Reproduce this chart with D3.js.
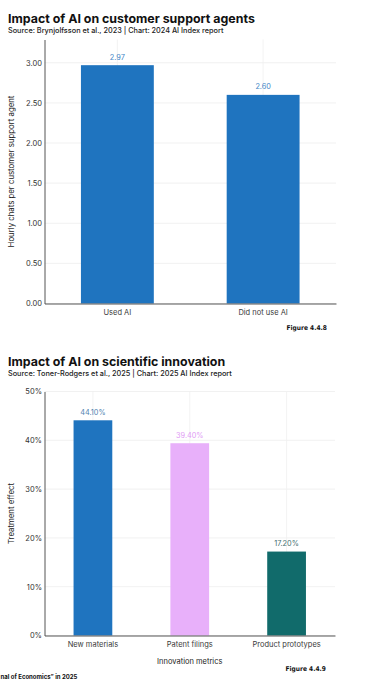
<!DOCTYPE html>
<html><head><meta charset="utf-8">
<script src="https://cdn.jsdelivr.net/npm/d3@7"></script>
<style>body{margin:0;background:#fff}svg{display:block}</style>
</head><body>
<svg id="c" width="382" height="681"></svg>
<script>
// Chart 1 data
const cats1 = ["Used AI", "Did not use AI"];
const vals1 = [2.97, 2.60];
const ticks1 = [0, 0.5, 1, 1.5, 2, 2.5, 3];
// Chart 2 data
const cats2 = ["New materials", "Patent filings", "Product prototypes"];
const vals2 = [44.10, 39.40, 17.20];
const ticks2 = [0, 10, 20, 30, 40, 50];
const colors2 = ["#1f74bf", "#e8b0fa", "#116b6b"];
const labelColors2 = ["#4f83b0", "#e19cf5", "#3f6f70"];

const svg = d3.select("#c");
const F = "Inter, 'Open Sans', sans-serif";

function header(y, title, sub) {
  svg.append("text").attr("x", 8).attr("y", y).attr("font-family", F).attr("font-weight", 700)
    .attr("font-size", 12.4).attr("fill", "#111").text(title);
  svg.append("text").attr("x", 8).attr("y", y + 9.5).attr("font-family", F).attr("font-weight", 500)
    .attr("font-size", 7.3).attr("fill", "#222").text(sub);
}

function chart(o) {
  const g = svg.append("g");
  const x = d3.scaleBand().domain(o.cats).range([o.left, o.right]).paddingInner(o.pi).paddingOuter(o.po);
  const y = d3.scaleLinear().domain(o.domain).range([o.bottom, o.top]);
  g.selectAll(".hg").data(o.ticks).join("line")
    .attr("x1", o.left).attr("x2", o.right).attr("y1", d => y(d)).attr("y2", d => y(d))
    .attr("stroke", "#eeeeee").attr("stroke-width", 0.8);
  g.selectAll(".vg").data(o.cats).join("line")
    .attr("x1", d => x(d) + x.bandwidth() / 2).attr("x2", d => x(d) + x.bandwidth() / 2)
    .attr("y1", o.top).attr("y2", o.bottom).attr("stroke", "#f0f0f0").attr("stroke-width", 0.8);
  g.selectAll(".bar").data(o.vals).join("rect")
    .attr("x", (d, i) => x(o.cats[i])).attr("width", x.bandwidth())
    .attr("y", d => y(d)).attr("height", d => o.bottom - y(d))
    .attr("fill", (d, i) => o.colors[i]);
  g.selectAll(".vl").data(o.vals).join("text")
    .attr("x", (d, i) => x(o.cats[i]) + x.bandwidth() / 2).attr("y", d => y(d) - 5.5)
    .attr("text-anchor", "middle").attr("font-family", F).attr("font-size", 7.3)
    .attr("fill", (d, i) => o.labelColors[i]).text(o.fmtv);
  const ya = d3.axisLeft(y).tickValues(o.ticks).tickFormat(o.fmt).tickSize(0).tickPadding(2.5);
  const yg = g.append("g").attr("transform", `translate(${o.left},0)`).call(ya);
  yg.select(".domain").attr("stroke", "#555").attr("stroke-width", 1);
  yg.selectAll("text").attr("font-family", F).attr("font-size", 7.5).attr("fill", "#333");
  const xa = d3.axisBottom(x).tickSize(0).tickPadding(6.5);
  const xg = g.append("g").attr("transform", `translate(0,${o.bottom})`).call(xa);
  xg.select(".domain").attr("stroke", "#555").attr("stroke-width", 1);
  xg.selectAll("text").attr("font-family", F).attr("font-size", 7.5).attr("fill", "#3a3a3a");
  g.append("text").attr("transform", `translate(${o.ytx},${(o.top + o.bottom) / 2}) rotate(-90)`)
    .attr("text-anchor", "middle").attr("font-family", F).attr("font-size", 7.8).attr("fill", "#222").text(o.ytitle);
  return {x, y};
}

header(23, "Impact of AI on customer support agents", "Source: Brynjolfsson et al., 2023 | Chart: 2024 AI Index report");
chart({cats: cats1, vals: vals1, ticks: ticks1, domain: [0, 3.29], left: 44.5, right: 336, top: 39.5, bottom: 303.5,
  pi: 0.5, po: 0.25, colors: ["#1f74bf", "#1f74bf"], labelColors: ["#3f86c6", "#3f86c6"],
  fmt: d3.format(".2f"), fmtv: d3.format(".2f"), ytx: 14, ytitle: "Hourly chats per customer support agent"});
svg.append("text").attr("x", 327).attr("y", 330).attr("text-anchor", "end").attr("font-family", "'DejaVu Sans Condensed', 'DejaVu Sans', sans-serif")
  .attr("font-weight", 700).attr("font-size", 6.6).attr("fill", "#111").text("Figure 4.4.8");

header(366, "Impact of AI on scientific innovation", "Source: Toner-Rodgers et al., 2025 | Chart: 2025 AI Index report");
chart({cats: cats2, vals: vals2, ticks: ticks2, domain: [0, 50], left: 44.5, right: 335, top: 391.5, bottom: 635.5,
  pi: 0.6, po: 0.3, colors: colors2, labelColors: labelColors2,
  fmt: d => d + "%", fmtv: d => d3.format(".2f")(d) + "%", ytx: 14, ytitle: "Treatment effect"});
svg.append("text").attr("x", (44.5 + 335) / 2).attr("y", 663.5).attr("text-anchor", "middle").attr("font-family", F)
  .attr("font-size", 7.5).attr("fill", "#222").text("Innovation metrics");
svg.append("text").attr("x", 326).attr("y", 671).attr("text-anchor", "end").attr("font-family", "'DejaVu Sans Condensed', 'DejaVu Sans', sans-serif")
  .attr("font-weight", 700).attr("font-size", 6.6).attr("fill", "#111").text("Figure 4.4.9");
svg.append("text").attr("x", 0.5).attr("y", 679).attr("font-family", F)
  .attr("font-weight", 700).attr("font-size", 6).attr("fill", "#111").text("nal of Economics\u201D in 2025");
</script>
</body></html>
